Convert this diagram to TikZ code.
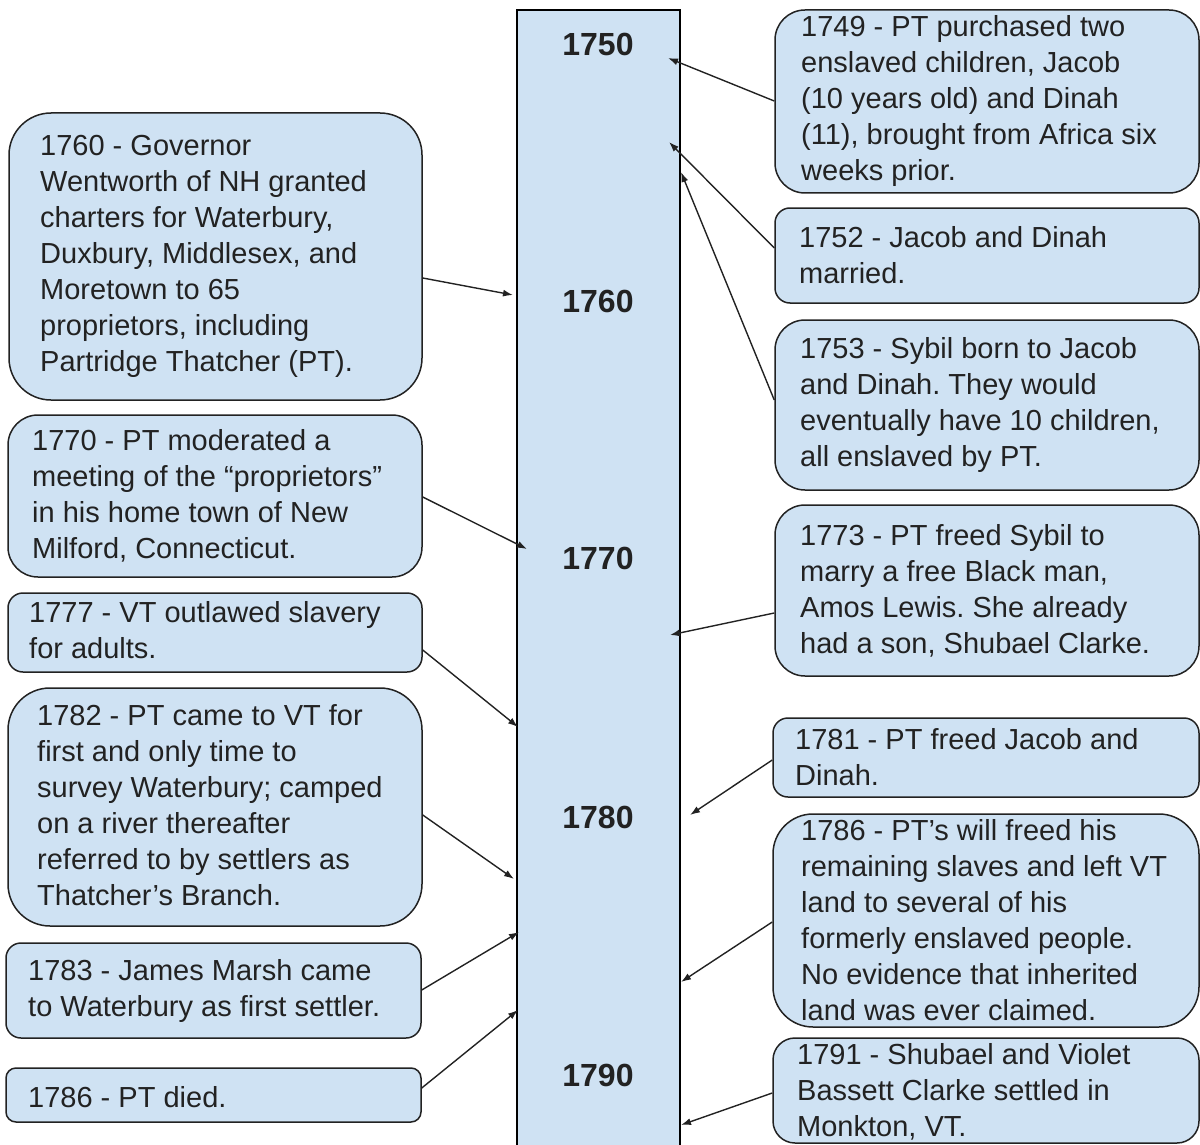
\documentclass[tikz,border=0pt]{standalone}
\usepackage{fontspec}
\setmainfont{Liberation Sans}
\usetikzlibrary{arrows.meta}
\definecolor{boxfill}{HTML}{CFE2F3}
\definecolor{ink}{HTML}{222222}
\frenchspacing
\begin{document}
\begin{tikzpicture}[x=1pt,y=-1pt,
  evbox/.style={draw=ink, line width=1.5pt, fill=boxfill, rectangle, inner sep=0pt},
  evtxt/.style={anchor=west, align=left, inner sep=0pt, text=ink, font=\fontsize{29}{36}\selectfont},
  conn/.style={draw=ink, line width=1.4pt, -{Latex[length=10pt,width=7pt]}},
  yr/.style={text=ink, inner sep=0pt, font=\fontsize{32}{38}\selectfont\bfseries}]
\useasboundingbox (0,0) rectangle (1200,1145);
\clip (0,0) rectangle (1200,1145);

% timeline bar
\node[evbox, draw=black, minimum width=163pt, minimum height=1140pt] (bar) at (598.5,580) {};
\node[yr] (y1750) at (598,44) {1750};
\node[yr] (y1760) at (598,301) {1760};
\node[yr] (y1770) at (598,558) {1770};
\node[yr] (y1780) at (598,817) {1780};
\node[yr] (y1790) at (598,1075) {1790};

% right boxes
\node[evbox, rounded corners=30pt, minimum width=424pt, minimum height=183pt] (r1) at (987,101.5) {};
\node[evtxt] (r1t) at (801,101.5) {1749 - PT purchased two\\enslaved children, Jacob\\(10 years old) and Dinah\\(11), brought from Africa six\\weeks prior.};

\node[evbox, rounded corners=15pt, minimum width=424pt, minimum height=95pt] (r2) at (987,255.5) {};
\node[evtxt] (r2t) at (799,255.5) {1752 - Jacob and Dinah\\married.};

\node[evbox, rounded corners=30pt, minimum width=424pt, minimum height=170pt] (r3) at (987,405) {};
\node[evtxt] (r3t) at (800,405) {1753 - Sybil born to Jacob\\and Dinah. They would\\eventually have 10 children,\\all enslaved by PT.};

\node[evbox, rounded corners=30pt, minimum width=424pt, minimum height=171pt] (r4) at (987,590.5) {};
\node[evtxt] (r4t) at (800,590.5) {1773 - PT freed Sybil to\\marry a free Black man,\\Amos Lewis. She already\\had a son, Shubael Clarke.};

\node[evbox, rounded corners=15pt, minimum width=426pt, minimum height=79pt] (r5) at (986,757.5) {};
\node[evtxt] (r5t) at (795,757.5) {1781 - PT freed Jacob and\\Dinah.};

\node[evbox, rounded corners=40pt, minimum width=426pt, minimum height=213pt] (r6) at (986,920.5) {};
\node[evtxt] (r6t) at (801,920.5) {1786 - PT’s will freed his\\remaining slaves and left VT\\land to several of his\\formerly enslaved people.\\No evidence that inherited\\land was ever claimed.};

\node[evbox, rounded corners=22pt, minimum width=426pt, minimum height=105pt] (r7) at (986,1090.5) {};
\node[evtxt] (r7t) at (797,1092) {1791 - Shubael and Violet\\Bassett Clarke settled in\\Monkton, VT.};

% left boxes
\node[evbox, rounded corners=42pt, minimum width=413pt, minimum height=287pt] (l1) at (215.5,256.5) {};
\node[evtxt] (l1t) at (40,256.5) {1760 - Governor\\Wentworth of NH granted\\charters for Waterbury,\\Duxbury, Middlesex, and\\Moretown to 65\\proprietors, including\\Partridge Thatcher (PT).};

\node[evbox, rounded corners=30pt, minimum width=414pt, minimum height=162pt] (l2) at (215,496) {};
\node[evtxt] (l2t) at (32,496) {1770 - PT moderated a\\meeting of the “proprietors”\\in his home town of New\\Milford, Connecticut.};

\node[evbox, rounded corners=15pt, minimum width=414pt, minimum height=79pt] (l3) at (215,632.5) {};
\node[evtxt] (l3t) at (29,630) {1777 - VT outlawed slavery\\for adults.};

\node[evbox, rounded corners=42pt, minimum width=414pt, minimum height=238pt] (l4) at (215,807) {};
\node[evtxt] (l4t) at (37,805) {1782 - PT came to VT for\\first and only time to\\survey Waterbury; camped\\on a river thereafter\\referred to by settlers as\\Thatcher’s Branch.};

\node[evbox, rounded corners=15pt, minimum width=415pt, minimum height=95pt] (l5) at (213.5,990.5) {};
\node[evtxt] (l5t) at (28,990.5) {1783 - James Marsh came\\to Waterbury as first settler.};

\node[evbox, rounded corners=10pt, minimum width=415pt, minimum height=54pt] (l6) at (213.5,1095) {};
\node[evtxt] (l6t) at (28,1097) {1786 - PT died.};

% arrow targets on the bar
\coordinate (tr1) at (668,58);
\coordinate (tr2) at (669,142);
\coordinate (tr3) at (681,172);
\coordinate (tr4) at (670,635);
\coordinate (tr5) at (690,815);
\coordinate (tr6) at (681,982);
\coordinate (tr7) at (681,1125);
\coordinate (tl1) at (513,295);
\coordinate (tl2) at (527,549);
\coordinate (tl3) at (518,727);
\coordinate (tl4) at (514,879);
\coordinate (tl5) at (519,932);
\coordinate (tl6) at (518,1010);

% connectors
\draw[conn] (r1.west |- 0,101) -- (tr1);
\draw[conn] (r2.west |- 0,248) -- (tr2);
\draw[conn] (r3.west |- 0,400) -- (tr3);
\draw[conn] (r4.west |- 0,613) -- (tr4);
\draw[conn] (r5.west |- 0,760) -- (tr5);
\draw[conn] (r6.west |- 0,922) -- (tr6);
\draw[conn] (r7.west |- 0,1093) -- (tr7);
\draw[conn] (l1.east |- 0,278) -- (tl1);
\draw[conn] (l2.east |- 0,497) -- (tl2);
\draw[conn] (l3.east |- 0,650) -- (tl3);
\draw[conn] (l4.east |- 0,815) -- (tl4);
\draw[conn] (l5.east |- 0,990) -- (tl5);
\draw[conn] (l6.east |- 0,1088) -- (tl6);
\end{tikzpicture}
\end{document}
